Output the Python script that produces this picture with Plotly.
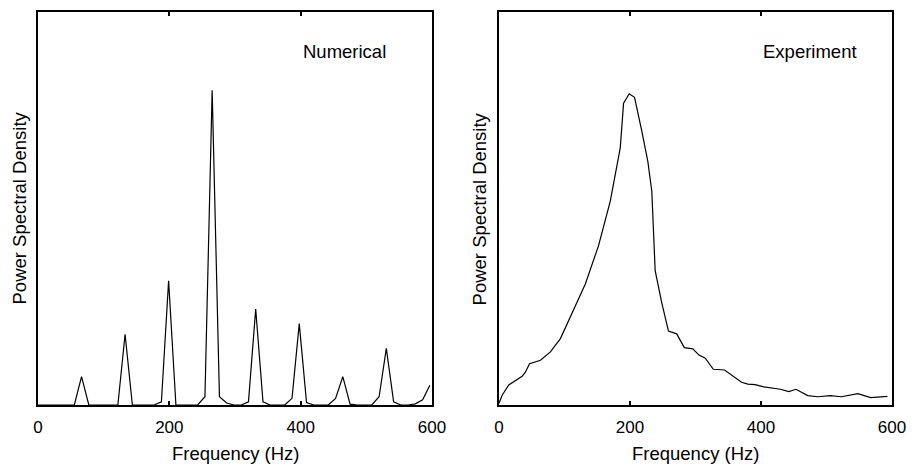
import plotly.graph_objects as go

# ---- data ----
num_freq = [0.0, 11.1, 22.1, 33.2, 44.2, 55.3, 66.3, 77.4, 88.4, 99.5, 110.5, 121.6,
            132.6, 143.7, 154.7, 165.8, 176.8, 187.9, 198.9, 210.0, 221.0, 232.1,
            243.1, 254.2, 265.2, 276.3, 287.3, 298.4, 309.4, 320.5, 331.5, 342.6,
            353.6, 364.7, 375.7, 386.8, 397.8, 408.9, 419.9, 431.0, 442.0, 453.1,
            464.1, 475.2, 486.2, 497.3, 508.3, 519.4, 530.4, 541.5, 552.5, 563.6,
            574.6, 585.7, 596.7]
num_psd = [0.0, 0.0, 0.0, 0.0, 0.0, 0.0, 0.072, 0.0, 0.0, 0.0, 0.0, 0.0,
           0.180, 0.0, 0.0, 0.0, 0.0, 0.008, 0.316, 0.0, 0.0, 0.0,
           0.0, 0.021, 0.801, 0.021, 0.005, 0.0, 0.0, 0.008, 0.244, 0.008,
           0.0, 0.0, 0.0, 0.017, 0.207, 0.006, 0.0, 0.0, 0.0, 0.017,
           0.072, 0.002, 0.0, 0.0, 0.0, 0.021, 0.144, 0.008, 0.0, 0.0,
           0.003, 0.013, 0.050]

exp_freq = [0, 5, 15, 35.5, 40.6, 46.7, 63.4, 78.6, 93.9, 111.6, 131.9, 152, 170,
            185.2, 190.3, 198.9, 207, 218.2, 227.3, 233.4, 238.5, 248.6, 258.8,
            271.4, 283, 296, 305.4, 315, 327.2, 344.5, 370.3, 380, 391, 404.5,
            429.5, 442.5, 453.5, 471.3, 487, 506, 522.5, 548, 567.5, 593]
exp_psd = [0.004, 0.025, 0.051, 0.073, 0.084, 0.105, 0.114, 0.135, 0.169, 0.232,
           0.308, 0.405, 0.519, 0.654, 0.768, 0.792, 0.783, 0.696, 0.620, 0.544,
           0.342, 0.260, 0.188, 0.181, 0.146, 0.143, 0.127, 0.119, 0.091, 0.089,
           0.058, 0.053, 0.052, 0.046, 0.040, 0.034, 0.040, 0.024, 0.021, 0.024,
           0.021, 0.029, 0.019, 0.022]

x_ticks = [0, 200, 400, 600]
x_ticktext = ["0", "200", "400", "600"]
panel_labels = ["Numerical", "Experiment"]
x_title = "Frequency (Hz)"
y_title = "Power Spectral Density"

FONT = "Liberation Sans, Arial, Helvetica, sans-serif"

fig = go.Figure()
fig.add_trace(go.Scatter(x=num_freq, y=num_psd, mode="lines",
                         line=dict(color="black", width=1.2),
                         xaxis="x", yaxis="y", showlegend=False))
fig.add_trace(go.Scatter(x=exp_freq, y=exp_psd, mode="lines",
                         line=dict(color="black", width=1.2),
                         xaxis="x2", yaxis="y2", showlegend=False))

xcommon = dict(range=[0, 600], tickvals=x_ticks, ticktext=x_ticktext,
               ticks="inside", ticklen=4, tickwidth=2, tickcolor="black",
               showline=True, linewidth=2, linecolor="black", mirror="ticks",
               showgrid=False, zeroline=False, ticklabelstandoff=6,
               tickfont=dict(family=FONT, size=17, color="black"))
ycommon = dict(range=[0, 1], showticklabels=False, ticks="",
               showline=True, linewidth=2, linecolor="black", mirror=True,
               showgrid=False, zeroline=False)

fig.update_layout(
    width=916, height=468,
    margin=dict(l=38, r=22, t=10, b=63),
    paper_bgcolor="white", plot_bgcolor="white",
    font=dict(family=FONT, color="black"),
    xaxis=dict(domain=[0, 0.4614], anchor="y", **xcommon),
    yaxis=dict(domain=[0, 1], anchor="x", **ycommon),
    xaxis2=dict(domain=[0.5397, 1], anchor="y2", **xcommon),
    yaxis2=dict(domain=[0, 1], anchor="x2", **ycommon),
)

annots = []
for i, (xa, ya) in enumerate([("x", "y"), ("x2", "y2")]):
    annots.append(dict(text=panel_labels[i], xref=xa, x=400, xanchor="left",
                       yref=ya + " domain", y=0.9, yanchor="middle",
                       showarrow=False, font=dict(family=FONT, size=18.5, color="black")))
    annots.append(dict(text=x_title, xref=xa + " domain", x=0.5, xanchor="center",
                       yref=ya + " domain", y=0, yanchor="middle", yshift=-48,
                       showarrow=False, font=dict(family=FONT, size=18.5, color="black")))
    annots.append(dict(text=y_title, xref=xa + " domain", x=0, xanchor="center",
                       xshift=-19, yref=ya + " domain", y=0.5, yanchor="middle",
                       textangle=-90, showarrow=False,
                       font=dict(family=FONT, size=18.5, color="black")))
fig.update_layout(annotations=annots)

fig.write_html("out.html", config={"displayModeBar": False},
               post_script="document.body.style.margin='0';")
